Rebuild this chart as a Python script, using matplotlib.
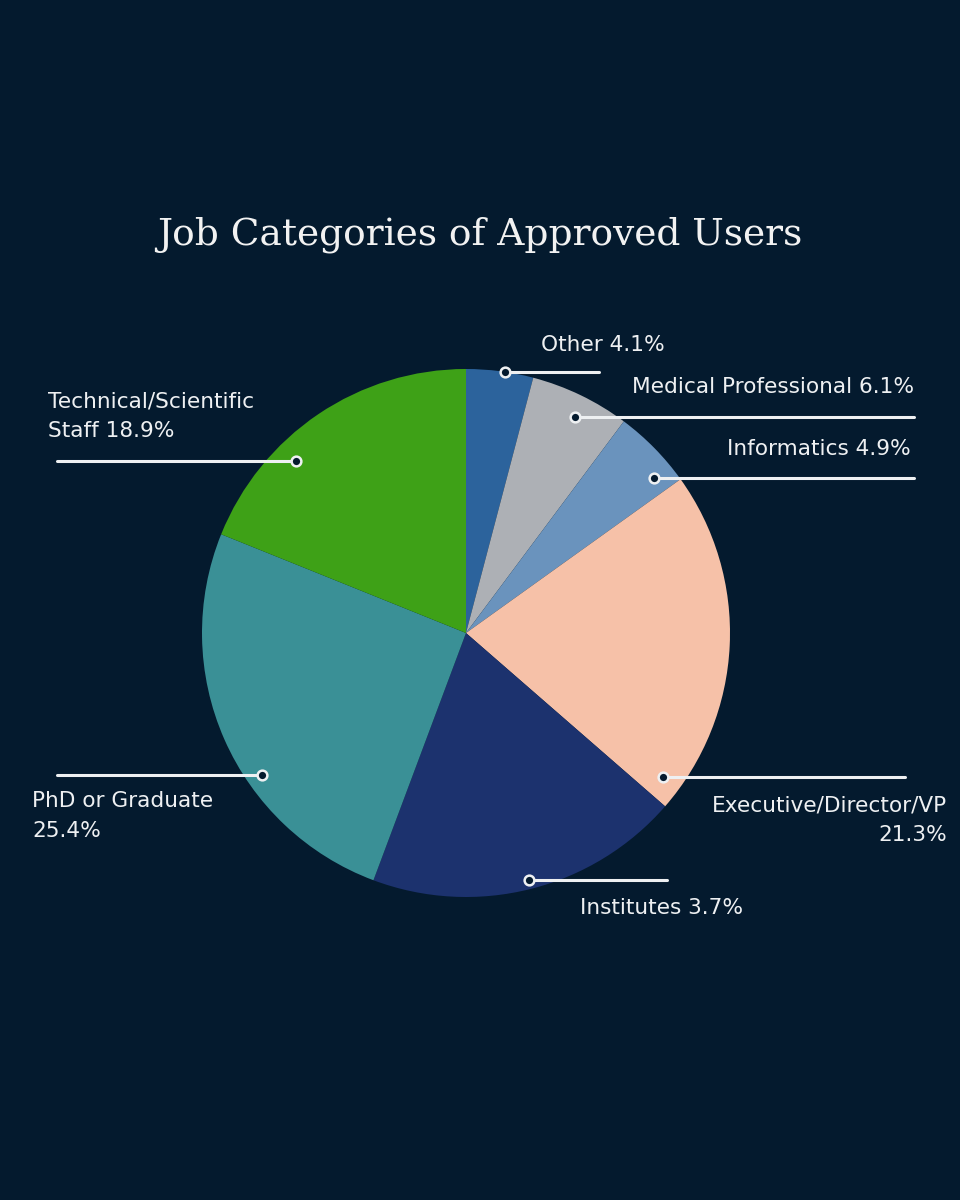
import matplotlib.pyplot as plt

# data
categories = ['Other', 'Medical Professional', 'Informatics', 'Executive/Director/VP',
              'Institutes', 'PhD or Graduate', 'Technical/Scientific Staff']
shares = [4.1, 6.1, 4.9, 21.3, 19.3, 25.4, 18.9]          # slice sizes as drawn
label_texts = ['Other 4.1%', 'Medical Professional 6.1%', 'Informatics 4.9%',
               'Executive/Director/VP\n21.3%', 'Institutes 3.7%',
               'PhD or Graduate\n25.4%', 'Technical/Scientific\nStaff 18.9%']
colors = ['#2c639c', '#adb0b5', '#6a93bd', '#f6c1a8', '#1c326e', '#3a9096', '#3ea117']

bg = '#041a2e'
fg = '#eef0f2'
W, H = 960, 1200

fig = plt.figure(figsize=(9.6, 12), dpi=100, facecolor=bg)
ax = fig.add_axes([0, 0, 1, 1])
ax.set_facecolor(bg)

def Y(y):
    return H - y

ax.pie(shares, colors=colors, startangle=90, counterclock=False,
       center=(466, Y(633)), radius=264, frame=True,
       wedgeprops=dict(linewidth=0))
ax.set_xlim(0, W)
ax.set_ylim(0, H)
ax.set_aspect('equal')
ax.axis('off')

# leader lines: dot x, dot y, line end x
leaders = [(505, 372, 599), (575, 417, 914), (654, 478, 914), (663, 777, 905),
           (529, 880, 667), (262, 775, 57), (296, 461, 57)]
# label anchors: x, y, ha
label_pos = [(541, 345, 'left'), (914, 387, 'right'), (911, 449, 'right'),
             (947, 820, 'right'), (580, 908, 'left'), (32, 816, 'left'),
             (48, 416, 'left')]

for (dx, dy, ex), (tx, ty, ha), txt in zip(leaders, label_pos, label_texts):
    ax.plot([dx, ex], [Y(dy), Y(dy)], color=fg, lw=2.2, solid_capstyle='round', zorder=3)
    ax.plot(dx, Y(dy), 'o', ms=7, mfc=bg, mec=fg, mew=1.8, zorder=4)
    ax.text(tx, Y(ty), txt, ha=ha, va='center', multialignment=ha,
            color=fg, fontsize=15.6, family='DejaVu Sans', linespacing=1.6)

ax.text(480, Y(235), 'Job Categories of Approved Users', ha='center', va='center',
        color='#f2f2f2', fontsize=27, family='DejaVu Serif')

plt.savefig('out.png', dpi=100, facecolor=bg)
